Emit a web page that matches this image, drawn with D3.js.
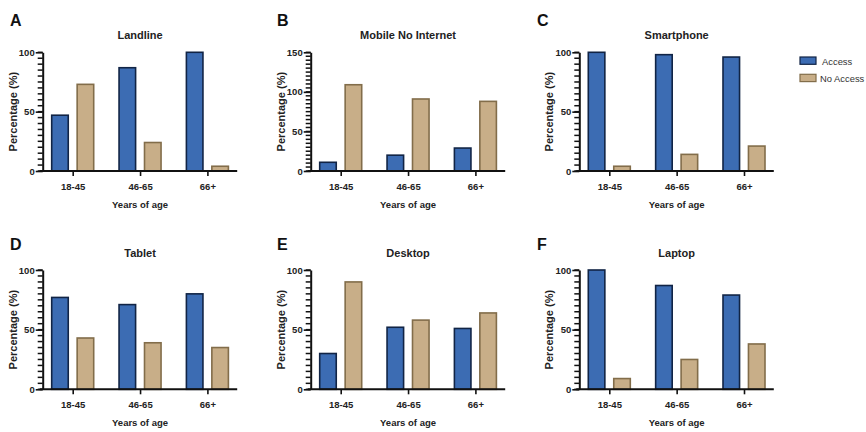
<!DOCTYPE html>
<html>
<head>
<meta charset="utf-8">
<script src="https://cdn.jsdelivr.net/npm/d3@7"></script>
<style>
  html, body { margin: 0; padding: 0; background: #fff; }
  svg { display: block; font-family: "Liberation Sans", Arial, sans-serif; }
</style>
</head>
<body>
<svg id="chart" width="866" height="432"></svg>
<script>
const ageGroups = ['18-45', '46-65', '66+'];
const seriesNames = ['Access', 'No Access'];
const panelTitles = ['Landline', 'Mobile No Internet', 'Smartphone', 'Tablet', 'Desktop', 'Laptop'];
const panelLetters = ['A', 'B', 'C', 'D', 'E', 'F'];
const accessValues = [
  [47, 87, 100],
  [11, 20, 29],
  [100, 98, 96],
  [77, 71, 80],
  [30, 52, 51],
  [100, 87, 79]
];
const noAccessValues = [
  [73, 24, 4],
  [109, 91, 88],
  [4, 14, 21],
  [43, 39, 35],
  [90, 58, 64],
  [9, 25, 38]
];
const yMaxValues = [100, 150, 100, 100, 100, 100];
const yMajorTicks = [
  [0, 50, 100],
  [0, 50, 100, 150],
  [0, 50, 100],
  [0, 50, 100],
  [0, 50, 100],
  [0, 50, 100]
];
const yMinorStep = 5;
const yAxisLabel = 'Percentage (%)';
const xAxisLabel = 'Years of age';

// layout
const COL_X = [42.7, 310.7, 579.3];
const ROW_TOP = [52.3, 270];
const ROW_BOTTOM = [171, 389.3];
const LETTER_X = [10, 277, 537];
const AXIS_LEN = 194.5;
const COLOR_FILL = { 'Access': '#3c6cb3', 'No Access': '#c8ae88' };
const COLOR_STROKE = { 'Access': '#112445', 'No Access': '#826d4a' };

const svg = d3.select('#chart');

const x = d3.scalePoint().domain(ageGroups).range([30, 164.7]);
const xSeries = d3.scaleBand().domain(seriesNames).range([-21, 21]).paddingInner(0.35);

panelTitles.forEach((title, i) => {
  const col = i % 3, row = Math.floor(i / 3);
  const top = ROW_TOP[row], bottom = ROW_BOTTOM[row];
  const g = svg.append('g').attr('transform', `translate(${COL_X[col]},0)`);

  const y = d3.scaleLinear().domain([0, yMaxValues[i]]).range([bottom, top]);

  // panel letter
  svg.append('text')
    .attr('x', LETTER_X[col])
    .attr('y', row === 0 ? 25.5 : 249.5)
    .attr('font-size', 16)
    .attr('font-weight', 'bold')
    .attr('fill', '#111')
    .text(panelLetters[i]);

  // title
  g.append('text')
    .attr('x', x(ageGroups[1]))
    .attr('y', top - 13.5)
    .attr('text-anchor', 'middle')
    .attr('font-size', 11)
    .attr('font-weight', 'bold')
    .attr('fill', '#222')
    .text(title);

  // bars
  const rows = ageGroups.map((grp, k) => ({
    grp,
    vals: [
      { key: 'Access', v: accessValues[i][k] },
      { key: 'No Access', v: noAccessValues[i][k] }
    ]
  }));
  g.selectAll('g.grp')
    .data(rows)
    .join('g')
    .attr('class', 'grp')
    .attr('transform', d => `translate(${x(d.grp)},0)`)
    .selectAll('rect')
    .data(d => d.vals)
    .join('rect')
    .attr('x', d => xSeries(d.key))
    .attr('width', xSeries.bandwidth())
    .attr('y', d => y(d.v))
    .attr('height', d => y(0) - y(d.v))
    .attr('fill', d => COLOR_FILL[d.key])
    .attr('stroke', d => COLOR_STROKE[d.key])
    .attr('stroke-width', 1.6);

  // y axis: minor ticks, every 5
  const minor = d3.range(0, yMaxValues[i] + 0.001, yMinorStep);
  g.append('g')
    .attr('class', 'minor-ticks')
    .selectAll('line')
    .data(minor)
    .join('line')
    .attr('x1', -5)
    .attr('x2', 0)
    .attr('y1', d => y(d))
    .attr('y2', d => y(d))
    .style('stroke', '#111')
    .style('stroke-width', '1.5px');

  // y axis: major ticks
  g.append('g')
    .call(d3.axisLeft(y).tickValues(yMajorTicks[i]).tickSize(7).tickPadding(1).tickSizeOuter(0))
    .call(a => a.select('.domain').attr('stroke', '#111').attr('stroke-width', 2))
    .call(a => a.selectAll('line').attr('stroke', '#111').attr('stroke-width', 1.6))
    .call(a => a.selectAll('text')
      .attr('font-size', 9.5)
      .attr('font-weight', 'bold')
      .attr('font-family', '"Liberation Sans", Arial, sans-serif')
      .attr('fill', '#222'));

  // x axis
  const xAxis = g.append('g')
    .attr('transform', `translate(0,${bottom})`)
    .call(d3.axisBottom(x).tickSize(5).tickPadding(7).tickSizeOuter(0))
    .call(a => a.select('.domain').remove())
    .call(a => a.selectAll('line').attr('stroke', '#111').attr('stroke-width', 1.6))
    .call(a => a.selectAll('text')
      .attr('font-size', 9.5)
      .attr('font-weight', 'bold')
      .attr('font-family', '"Liberation Sans", Arial, sans-serif')
      .attr('fill', '#222'));
  xAxis.append('line')
    .attr('x1', -3).attr('x2', AXIS_LEN)
    .attr('stroke', '#111')
    .attr('stroke-width', 2);

  // axis labels
  g.append('text')
    .attr('x', x(ageGroups[1]))
    .attr('y', bottom + 37)
    .attr('text-anchor', 'middle')
    .attr('font-size', 9.5)
    .attr('font-weight', 'bold')
    .attr('fill', '#222')
    .text(xAxisLabel);

  g.append('text')
    .attr('transform', `translate(-26,${(top + bottom) / 2}) rotate(-90)`)
    .attr('text-anchor', 'middle')
    .attr('font-size', 11)
    .attr('font-weight', 'bold')
    .attr('fill', '#222')
    .text(yAxisLabel);
});

// legend
const legend = svg.append('g').attr('transform', 'translate(800,57)');
seriesNames.forEach((name, k) => {
  const lg = legend.append('g').attr('transform', `translate(0,${k * 17.3})`);
  lg.append('rect')
    .attr('width', 16).attr('height', 7.3)
    .attr('fill', COLOR_FILL[name])
    .attr('stroke', COLOR_STROKE[name])
    .attr('stroke-width', 1.2);
  lg.append('text')
    .attr('x', name === 'Access' ? 22 : 20)
    .attr('y', 7.5)
    .attr('font-size', 9.4)
    .attr('fill', '#333')
    .text(name);
});
</script>
</body>
</html>
